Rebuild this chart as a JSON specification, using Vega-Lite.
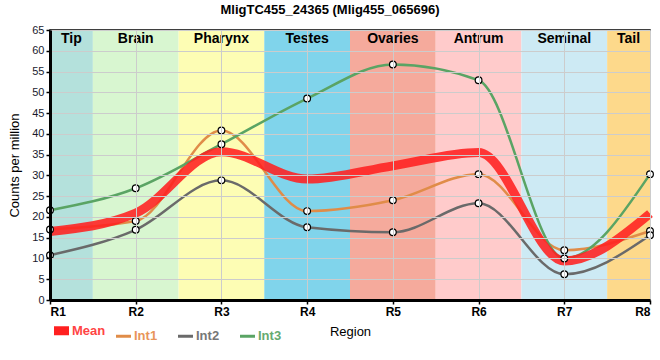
{
  "$schema": "https://vega.github.io/schema/vega-lite/v6.json",
  "width": 600,
  "height": 270,
  "autosize": {"type": "none"},
  "padding": {"left": 50, "top": 30, "right": 10, "bottom": 60},
  "background": "white",
  "title": {"text": "MligTC455_24365 (Mlig455_065696)", "font": "Liberation Sans", "fontSize": 13, "fontWeight": "bold", "color": "#000", "offset": 7, "dx": -20},
  "config": {
    "view": {"stroke": "#000", "strokeWidth": 1.5},
    "font": "Liberation Sans"
  },
  "datasets": {
    "bands": [
      {"label": "Tip", "start": 1, "end": 1.5},
      {"label": "Brain", "start": 1.5, "end": 2.5},
      {"label": "Pharynx", "start": 2.5, "end": 3.5},
      {"label": "Testes", "start": 3.5, "end": 4.5},
      {"label": "Ovaries", "start": 4.5, "end": 5.5},
      {"label": "Antrum", "start": 5.5, "end": 6.5},
      {"label": "Seminal", "start": 6.5, "end": 7.5},
      {"label": "Tail", "start": 7.5, "end": 8}
    ],
    "expr": [
      {"region": 1, "series": "Int1", "value": 17.0},
      {"region": 2, "series": "Int1", "value": 19.0},
      {"region": 3, "series": "Int1", "value": 40.8},
      {"region": 4, "series": "Int1", "value": 21.4},
      {"region": 5, "series": "Int1", "value": 24.0},
      {"region": 6, "series": "Int1", "value": 30.3},
      {"region": 7, "series": "Int1", "value": 12.0},
      {"region": 8, "series": "Int1", "value": 16.6},
      {"region": 1, "series": "Int2", "value": 10.8},
      {"region": 2, "series": "Int2", "value": 16.9},
      {"region": 3, "series": "Int2", "value": 28.8},
      {"region": 4, "series": "Int2", "value": 17.5},
      {"region": 5, "series": "Int2", "value": 16.3},
      {"region": 6, "series": "Int2", "value": 23.3},
      {"region": 7, "series": "Int2", "value": 6.2},
      {"region": 8, "series": "Int2", "value": 15.6},
      {"region": 1, "series": "Int3", "value": 21.6},
      {"region": 2, "series": "Int3", "value": 26.9},
      {"region": 3, "series": "Int3", "value": 37.5},
      {"region": 4, "series": "Int3", "value": 48.5},
      {"region": 5, "series": "Int3", "value": 56.7},
      {"region": 6, "series": "Int3", "value": 52.9},
      {"region": 7, "series": "Int3", "value": 10.0},
      {"region": 8, "series": "Int3", "value": 30.3}
    ],
    "mean": [
      {"region": 1, "series": "Mean", "value": 16.5},
      {"region": 2, "series": "Mean", "value": 20.9},
      {"region": 3, "series": "Mean", "value": 35.7},
      {"region": 4, "series": "Mean", "value": 29.1},
      {"region": 5, "series": "Mean", "value": 32.3},
      {"region": 6, "series": "Mean", "value": 35.5},
      {"region": 7, "series": "Mean", "value": 9.4},
      {"region": 8, "series": "Mean", "value": 20.8}
    ]
  },
  "layer": [
    {
      "data": {"name": "bands"},
      "mark": {"type": "rect"},
      "encoding": {
        "x": {"field": "start", "type": "quantitative", "scale": {"domain": [1, 8], "nice": false, "zero": false},
          "axis": {"tickCount": 7, "labelExpr": "'R' + datum.value", "title": "Region",
            "labelFont": "Liberation Sans", "labelFontSize": 12, "labelFontWeight": "bold", "labelColor": "#000", "labelPadding": 2,
            "titleFont": "Liberation Sans", "titleFontSize": 13, "titleFontWeight": "normal", "titleColor": "#000", "titlePadding": 8,
            "domainColor": "#000", "domainWidth": 3, "tickColor": "#000", "tickSize": 4, "tickWidth": 1.5,
            "grid": true, "gridColor": "#cccccc", "gridWidth": 1, "zindex": 1}},
        "x2": {"field": "end"},
        "fill": {"field": "label", "type": "nominal", "legend": null,
          "scale": {"domain": ["Tip", "Brain", "Pharynx", "Testes", "Ovaries", "Antrum", "Seminal", "Tail"],
            "range": ["#b4e1dc", "#d8f6d0", "#fdfdb4", "#80d4eb", "#f5aa9c", "#ffcbcb", "#cdeaf4", "#fdd98b"]}}
      }
    },
    {
      "data": {"name": "expr"},
      "mark": {"type": "line", "interpolate": "monotone", "strokeWidth": 2.5},
      "encoding": {
        "x": {"field": "region", "type": "quantitative"},
        "y": {"field": "value", "type": "quantitative", "scale": {"domain": [0, 65], "nice": false},
          "axis": {"tickCount": 13, "title": "Counts per million",
            "labelFont": "Liberation Sans", "labelFontSize": 11, "labelColor": "#1a1a2e", "labelPadding": 2, "labelOverlap": false,
            "titleFont": "Liberation Sans", "titleFontSize": 13, "titleFontWeight": "normal", "titleColor": "#000", "titlePadding": 10,
            "domainColor": "#000", "domainWidth": 3, "tickColor": "#000", "tickSize": 4, "tickWidth": 1.5,
            "grid": true, "gridColor": "#cccccc", "gridWidth": 1, "zindex": 1}},
        "color": {"field": "series", "type": "nominal",
          "scale": {"domain": ["Mean", "Int1", "Int2", "Int3"], "range": ["#ff2020", "#e08c48", "#6a6a6a", "#5aa464"]},
          "legend": {"orient": "none", "legendX": 5, "legendY": 294, "direction": "horizontal", "columns": 4, "gridAlign": "all",
            "title": null, "symbolType": "stroke", "symbolSize": 225, "symbolStrokeWidth": 3, "columnPadding": 4,
            "labelFont": "Liberation Sans", "labelFontSize": 13, "labelFontWeight": "bold", "labelOffset": 4,
            "encode": {
              "symbols": {"update": {"strokeWidth": {"signal": "datum.value === 'Mean' ? 9 : 3"}}},
              "labels": {"update": {"fill": {"signal": "datum.value === 'Mean' ? '#ff4444' : datum.value === 'Int1' ? '#e8955a' : datum.value === 'Int2' ? '#777777' : '#66aa70'"}}}
            }}}
      }
    },
    {
      "data": {"name": "mean"},
      "mark": {"type": "line", "interpolate": "monotone", "strokeWidth": 9, "opacity": 0.88},
      "encoding": {
        "x": {"field": "region", "type": "quantitative"},
        "y": {"field": "value", "type": "quantitative"},
        "color": {"field": "series", "type": "nominal"}
      }
    },
    {
      "data": {"name": "expr"},
      "mark": {"type": "point", "shape": "circle", "filled": false, "fill": "white", "fillOpacity": 1, "stroke": "#000", "strokeWidth": 1.2, "size": 45, "opacity": 1},
      "encoding": {
        "x": {"field": "region", "type": "quantitative"},
        "y": {"field": "value", "type": "quantitative"}
      }
    },
    {
      "data": {"name": "bands"},
      "transform": [{"calculate": "(datum.start + datum.end) / 2", "as": "mid"}],
      "mark": {"type": "text", "font": "Liberation Sans", "fontSize": 14, "fontWeight": "bold", "color": "#000", "baseline": "middle", "align": "center"},
      "encoding": {
        "x": {"field": "mid", "type": "quantitative"},
        "y": {"datum": 62.8, "type": "quantitative"},
        "text": {"field": "label"}
      }
    }
  ]
}
